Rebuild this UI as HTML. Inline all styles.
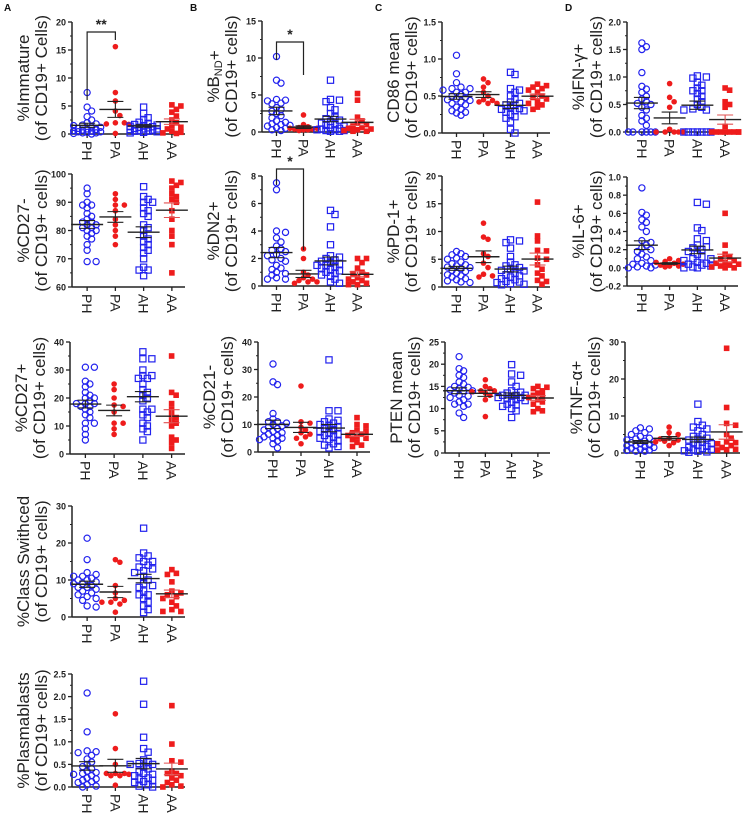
<!DOCTYPE html>
<html><head><meta charset="utf-8"><style>
html,body{margin:0;padding:0;background:#fff;}
svg{display:block;font-family:"Liberation Sans",sans-serif;}
</style></head><body>
<svg id="fig" width="749" height="813" viewBox="0 0 749 813"></svg>
<script>
const groups = ["PH","PA","AH","AA"];
const immature = [[7.4,4.8,4.1,3.1,2.5,2.0,1.8,1.5,1.2,1.0,0.9,0.7,0.6,0.5,0.4,0.3,0.2,0.1,0.8,1.3,1.6,0.4,0.2,0.0],[15.6,7.4,5.9,4.1,3.3,2.0,1.8,1.7,0.1,2.0],[4.8,3.7,2.9,2.5,2.1,1.9,1.7,1.5,1.3,1.2,1.1,1.0,0.9,0.8,0.7,0.6,0.5,0.4,0.3,0.2,1.4,1.6,0.9,0.5],[5.2,5.0,4.4,3.9,3.2,2.5,2.0,1.5,1.2,0.9,0.5,0.3,0.2,0.1]];
const bnd = [[10.2,7.0,6.6,4.4,4.2,3.9,3.8,3.3,2.8,2.5,2.2,1.9,1.5,1.3,1.0,0.9,0.8,0.5,0.3,0.2,1.1,0.6,3.0,4.3],[2.3,1.0,0.7,0.6,0.5,0.4,0.4,0.3,0.2,0.3,0.5],[7.0,4.4,4.3,4.1,3.3,3.0,2.5,2.0,1.6,1.4,1.2,1.0,0.8,0.6,0.5,0.4,0.3,0.2,0.1,0.1,0.9,1.8,0.3,0.2],[5.2,4.3,2.0,1.5,1.2,1.0,0.8,0.6,0.5,0.4,0.3,0.2,0.1,0.1]];
const cd86 = [[1.05,0.80,0.68,0.62,0.60,0.58,0.55,0.52,0.50,0.48,0.46,0.44,0.42,0.40,0.38,0.35,0.32,0.30,0.28,0.27,0.24,0.55,0.60,0.45],[0.73,0.68,0.62,0.55,0.50,0.44,0.42,0.40,0.40,0.45],[0.82,0.79,0.60,0.58,0.50,0.45,0.42,0.38,0.35,0.32,0.30,0.28,0.25,0.22,0.20,0.15,0.05,0.0,0.40,0.33,0.55,0.30],[0.66,0.64,0.62,0.60,0.55,0.50,0.48,0.46,0.42,0.40,0.38,0.35,0.32,0.58]];
const ifng = [[1.62,1.55,1.50,1.08,0.83,0.78,0.72,0.65,0.60,0.55,0.50,0.45,0.40,0.30,0.25,0.20,0.12,0.0,0.0,0.0,0.0,0.0,0.0,0.52],[0.88,0.63,0.55,0.45,0.05,0.0,0.0,0.0,0.0,0.0],[1.02,1.0,0.98,0.9,0.8,0.75,0.7,0.65,0.6,0.55,0.5,0.45,0.4,0.42,0.4,0.0,0.0,0.0,0.0,0.0,0.0,0.0,0.75,0.85],[0.80,0.76,0.55,0.50,0.45,0.0,0.0,0.0,0.0,0.0,0.0,0.0,0.0,0.1]];
const cd27neg = [[95,93,90,89,89,88,85,84,83,83,82,82,81,81,80,80,79,78,77,75,73,69,69,86],[93,91,89,89,87,84,82,80,78,75],[95.5,92,91,90,90,88,87,86,85,82,81,80,78,77,76,75,74,73,72,70,67,66,66,64],[97.5,97,96,95,93,92,91,90,87,84,80,78,75,65]];
const dn2 = [[7.5,7.0,4.0,3.9,3.5,3.2,2.9,2.6,2.5,2.3,2.2,2.0,1.9,1.8,1.5,1.3,1.0,0.9,0.8,0.6,0.5,0.5,1.2,2.7],[2.7,2.0,1.0,0.8,0.6,0.5,0.4,0.3,0.2,0.3],[5.5,5.2,4.3,3.0,2.2,2.0,1.9,1.8,1.7,1.6,1.5,1.4,1.3,1.1,1.0,0.9,0.8,0.7,0.5,0.3,0.2,1.2,1.5,2.1],[2.0,2.0,1.7,1.3,1.0,0.9,0.8,0.6,0.5,0.4,0.3,0.2,0.1,0.1]];
const pd1 = [[6.4,6.0,5.8,5.5,5.2,5.0,4.5,4.2,4.0,3.8,3.5,3.3,3.0,2.8,2.5,2.2,2.0,1.8,1.5,1.3,1.1,0.9,0.8,3.6],[11.5,9.0,8.6,6.0,5.5,4.3,3.5,2.0,1.8,2.3],[8.5,8.3,8.0,7.0,5.5,4.5,4.0,3.8,3.5,3.0,2.5,2.2,2.0,1.8,1.5,1.3,1.0,0.9,0.8,0.6,0.5,0.4,3.2,2.9],[15.3,9.2,8.3,6.6,6.5,5.2,5.0,4.0,3.2,2.5,2.0,1.2,0.5,1.0]];
const il6 = [[0.88,0.61,0.58,0.53,0.50,0.45,0.40,0.28,0.25,0.22,0.20,0.18,0.15,0.12,0.10,0.08,0.05,0.04,0.03,0.02,0.01,0.0,0.0,0.3],[0.10,0.08,0.07,0.06,0.05,0.04,0.03,0.02,0.02,0.01],[0.72,0.70,0.44,0.41,0.32,0.25,0.23,0.22,0.20,0.18,0.15,0.12,0.10,0.08,0.06,0.05,0.04,0.03,0.02,0.01,0.0,0.0,0.1,0.3],[0.60,0.25,0.15,0.12,0.10,0.08,0.06,0.05,0.04,0.03,0.02,0.01,0.0,0.0]];
const cd27pos = [[31,31,26,25,24,22,21,20,19,18,18,17,17,16,15,14,13,11,11,9,7,5,20,18],[25,23,20,17.5,17,15,11,11,9,7],[36.5,34,34,30,28,28,27,27,25,23,22,21,20,19,16,16,15,14,13,11,10,9,8,5],[35,22,21,18,16,14,13,12,11,10,6,5,4,2]];
const cd21neg = [[32,25.5,24.5,14,12,11,10.5,10,9.5,9,8.5,8,7.5,7,6.5,6,5.5,5,5,4.5,4,3,1.5,11],[24,11,10.5,9,8,7,6.5,5.5,5,3],[33.5,15,15,12,11.5,11,10.5,10,9.5,9,8.5,8,7.5,7,6.5,6,5.5,5,4.5,4,3,2.5,2,1.5],[12.5,10,9.5,8,7.5,7,6.5,6,5.5,5,4.5,3.5,2.5,2]];
const pten = [[21.7,19,18.5,17.5,17,16,15.5,15,14.8,14.5,14,14,13.5,13,12.5,12,11.5,11,11,10.5,9,8,14.2,12.8],[16.5,15,14.5,14,14,13.8,13.5,13,12,8.2],[19.9,17.8,17.5,16,15,14,13.7,13.5,13,13,12.8,12.5,12.2,12,11.8,11.5,11,10.8,10.5,10,9.5,8,12.5,13],[15,14.8,14.5,14,13.5,13,12.8,12.5,12,11.5,11,10,9.5,9.3]];
const tnfa = [[6.8,6.5,6.0,5.5,5,4.5,4,3.8,3.5,3,2.8,2.5,2.2,2,1.8,1.5,1.3,1.0,0.8,0.7,0.5,0.5,3.2,2.0],[7,5.5,5,4,3.8,3.5,3.2,3,2.8,2],[13.2,8.5,7.5,7,6.5,6,5,4.5,4,3.8,3.5,3,2.8,2.5,2,1.8,1.5,1.2,1,0.8,0.6,0.5,0.3,0.2],[28.3,12.3,8,7.5,5,4,3,2.8,2.5,2,1.5,1.0,0.8,0.9]];
const classSw = [[21.3,15.5,12,11.5,11,11,10.5,10,10,9.5,9,9,8.5,8,8,7.5,7,6.5,6,5.5,5,4.5,3,2.7],[15.5,14.8,8.5,6.5,5,4.5,4,4,3.5,1.3],[24,17.3,16.5,16,15,15,14,13.5,12.5,12,11,10,9,8,7,6,6,5,4,3,2,1.2,13,8.5],[12.8,11.8,11.5,9.5,7,6.5,6,5.5,5,4,3,2,1.5,1.5]];
const plasma = [[2.08,1.22,0.8,0.78,0.76,0.7,0.62,0.55,0.5,0.45,0.4,0.35,0.32,0.3,0.28,0.25,0.2,0.18,0.15,0.12,0.1,0.05,0.02,0.0],[1.62,0.85,0.5,0.3,0.3,0.28,0.25,0.25,0.04,0.3],[2.34,1.83,1.1,0.85,0.77,0.55,0.52,0.5,0.5,0.45,0.4,0.35,0.3,0.28,0.25,0.2,0.18,0.15,0.12,0.1,0.05,0.02,0.0,0.6],[1.8,0.95,0.58,0.55,0.35,0.3,0.25,0.2,0.15,0.1,0.05,0.02,0.0,0.3]];

const NS="http://www.w3.org/2000/svg";
const svg=document.getElementById('fig');
function mk(tag,attrs,parent){const e=document.createElementNS(NS,tag);for(const k in attrs)e.setAttribute(k,attrs[k]);(parent||svg).appendChild(e);return e;}
const BLUE="#2222ee", RED="#ee1c1c";

function panel(name,data,x0,x1,yT,yB,vmin,vmax,step,dec,t1,t2,sig){
  const g=mk('g',{});
  
  
  const ys=v=>yB-(v-vmin)/(vmax-vmin)*(yB-yT);
  const xs=i=>x0+(x1-x0)*(i+0.5)/4+1;
  const ya=mk('line',{x1:x0,y1:yT,x2:x0,y2:yB,stroke:"#222","stroke-width":1.5},g);
  
  const xa=mk('line',{x1:x0,y1:yB,x2:x1,y2:yB,stroke:"#222","stroke-width":1.5},g);
  
  const n=Math.round((vmax-vmin)/step);
  for(let k=0;k<=n;k++){
    const v=vmin+k*step,y=ys(v);
    mk('line',{x1:x0-4,y1:y,x2:x0,y2:y,stroke:"#222","stroke-width":1.3},g);
    if(k<n) mk('line',{x1:x0-2,y1:ys(v+step/2),x2:x0,y2:ys(v+step/2),stroke:"#222","stroke-width":1},g);
    const t=mk('text',{x:x0-6,y:y+3.5,"text-anchor":"end","font-size":9,"font-weight":"bold",fill:"#222"},g);
    t.textContent=v.toFixed(dec);
    
  }
  const cy=(yT+yB)/2;
  const ta=mk('text',{transform:`translate(${x0-43},${cy}) rotate(-90)`,"text-anchor":"middle","font-size":17,fill:"#222"},g);
  if(t1==="BND"){
    ta.innerHTML='%B<tspan font-size="11" dy="3">ND</tspan><tspan font-size="17" dy="-2">+</tspan>';
  } else ta.textContent=t1;
  
  const tb=mk('text',{transform:`translate(${x0-25},${cy}) rotate(-90)`,"text-anchor":"middle","font-size":17,fill:"#222"},g);
  tb.textContent=t2;
  
  groups.forEach((gname,i)=>{
    const x=xs(i);
    mk('line',{x1:x,y1:yB,x2:x,y2:yB+4,stroke:"#222","stroke-width":1.3},g);
    const tl=mk('text',{transform:`translate(${x-5},${yB+7}) rotate(90)`,"font-size":14,fill:"#222"},g);
    tl.textContent=gname;
    
    const vals=data[i];
    const sorted=vals.slice().sort((a,b)=>b-a);
    const placed=[];
    sorted.forEach((v,j)=>{
      const y=ys(v);
      const cands=[0];for(let s=4.5;s<=14;s+=4.5){cands.push(s,-s);}
      let off=cands[0],best=1e9;
      for(const c of cands){
        let cost=0;placed.forEach(p=>{const d=Math.hypot(p[0]-c,p[1]-y);if(d<5)cost+=5-d;});
        cost+=Math.abs(c)*0.01;
        if(cost<best){best=cost;off=c;}
      }
      placed.push([off,y]);
      let m;
      if(i===0) m=mk('circle',{cx:x+off,cy:y,r:3.1,fill:"none",stroke:BLUE,"stroke-width":1.2},g);
      else if(i===1) m=mk('circle',{cx:x+off,cy:y,r:2.8,fill:RED},g);
      else if(i===2) m=mk('rect',{x:x+off-3.1,y:y-3.1,width:6.2,height:6.2,fill:"none",stroke:BLUE,"stroke-width":1.2},g);
      else m=mk('rect',{x:x+off-2.8,y:y-2.8,width:5.6,height:5.6,fill:RED},g);
      
      
    });
    const mean=vals.reduce((a,b)=>a+b,0)/vals.length;
    const sd=Math.sqrt(vals.reduce((a,b)=>a+(b-mean)**2,0)/(vals.length-1));
    const sem=sd/Math.sqrt(vals.length);
    const ml=mk('line',{x1:x-16,y1:ys(mean),x2:x+16,y2:ys(mean),stroke:"#222","stroke-width":1.4},g);
    
    const ec=i===3?"#e05050":"#222";
    mk('line',{x1:x,y1:ys(mean+sem),x2:x,y2:ys(mean-sem),stroke:ec,"stroke-width":1.1},g);
    mk('line',{x1:x-8,y1:ys(mean+sem),x2:x+8,y2:ys(mean+sem),stroke:ec,"stroke-width":1.1},g);
    mk('line',{x1:x-8,y1:ys(mean-sem),x2:x+8,y2:ys(mean-sem),stroke:ec,"stroke-width":1.1},g);
  });
  if(sig){
    const [yb,lab,yEnd0,yEnd1]=sig;
    const a=xs(0),b=xs(1);
    const br=mk('path',{d:`M${a},${yEnd0}V${yb}H${b}V${yEnd1}`,fill:"none",stroke:"#222","stroke-width":1.2},g);
    
    const st=mk('text',{x:(a+b)/2,y:yb-3,"text-anchor":"middle","font-size":14,"font-weight":"bold",fill:"#222"},g);
    st.textContent=lab;
    
  }
}

panel('immature',immature,72,185,22,134,0,20,5,0,'%Immature','(of CD19+ Cells)',[32,'**',100,40]);
panel('bnd',bnd,262,370,21,132,0,15,5,0,'BND','(of CD19+ cells)',[42,'*',60,75]);
panel('cd86',cd86,442,550,22,133,0,1.5,0.5,1,'CD86 mean','(of CD19+ cells)');
panel('ifng',ifng,627,738,22,132,0,2,0.5,1,'%IFN-γ+','(of CD19+ cells)');
panel('cd27neg',cd27neg,72,185,174,287,60,100,10,0,'%CD27-','(of CD19+ cells)');
panel('dn2',dn2,262,370,176,286,0,8,2,0,'%DN2+','(of CD19+ cells)',[169,'*',185,250]);
panel('pd1',pd1,442,550,176,287,0,20,5,0,'%PD-1+','(of CD19+ cells)');
panel('il6',il6,627,738,177,286,-0.2,1.0,0.2,1,'%IL-6+','(of CD19+ cells)');
panel('cd27pos',cd27pos,70,185,342,454,0,40,10,0,'%CD27+','(of CD19+ cells)');
panel('cd21neg',cd21neg,258,370,342,452,0,40,10,0,'%CD21-','(of CD19+ cells)');
panel('pten',pten,445,550,342,453,0,25,5,0,'PTEN mean','(of CD19+ cells)');
panel('tnfa',tnfa,625,740,342,453,0,30,10,0,'%TNF-α+','(of CD19+ cells)');
panel('class-switched',classSw,72,185,506,617,0,30,10,0,'%Class Swithced','(of CD19+ cells)');
panel('plasmablasts',plasma,72,185,674,787,0,2.5,0.5,1,'%Plasmablasts','(of CD19+ cells)');

[['A',4],['B',190],['C',375],['D',565]].forEach(([l,x])=>{
  const t=mk('text',{x:x,y:11,"font-size":10,"font-weight":"bold",fill:"#111"});
  t.textContent=l;
  
  
});
</script>
</body></html>
